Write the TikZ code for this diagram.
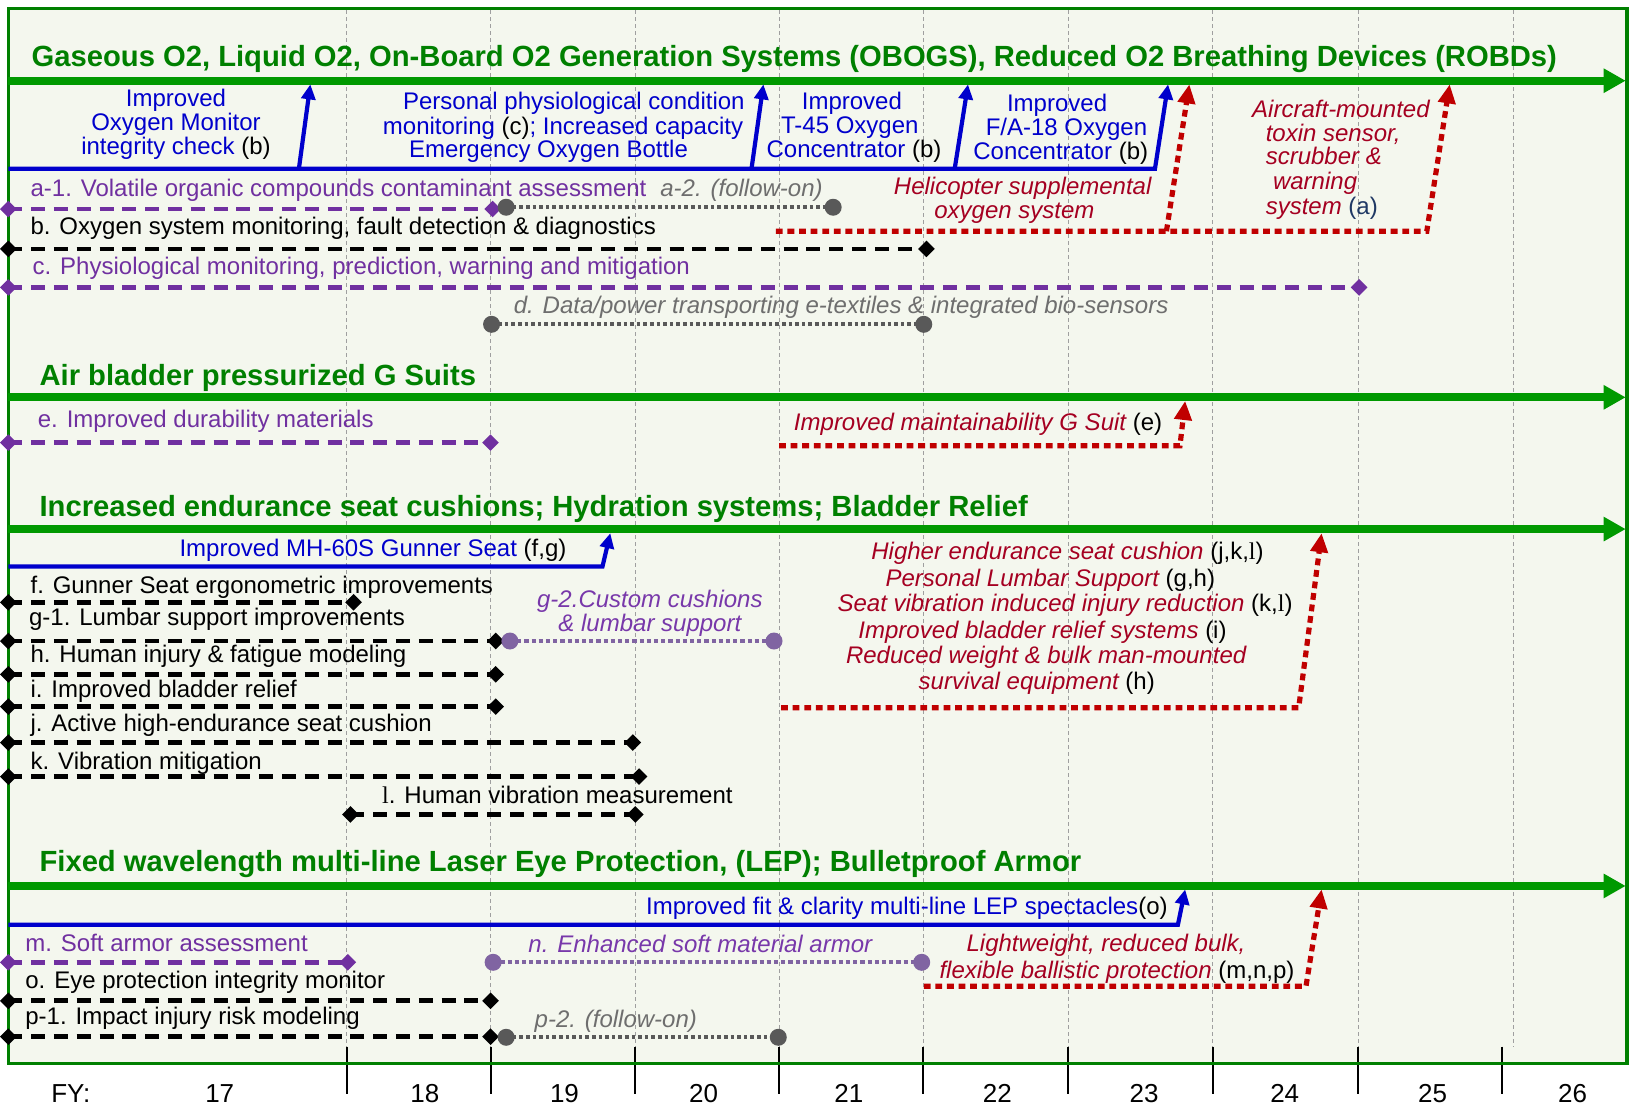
\documentclass[tikz,border=0pt]{standalone}
\usepackage{fontspec}
\setmainfont{Liberation Sans}
\newfontfamily\serifl{Liberation Serif}
\usetikzlibrary{arrows.meta,shapes.geometric}
\newcommand\Lser{{\serifl l}}
\definecolor{bgc}{RGB}{244,247,238}
\definecolor{frameg}{RGB}{0,128,0}
\definecolor{lineg}{RGB}{0,153,0}
\definecolor{titleg}{RGB}{0,128,0}
\definecolor{bl}{RGB}{0,0,204}
\definecolor{pur}{RGB}{112,48,160}
\definecolor{lpur}{RGB}{128,100,162}
\definecolor{ipur}{RGB}{120,56,170}
\definecolor{gry}{RGB}{89,89,89}
\definecolor{gtxt}{RGB}{110,110,110}
\definecolor{rd}{RGB}{192,0,0}
\definecolor{rtxt}{RGB}{165,0,33}
\definecolor{navy}{RGB}{31,56,100}
\tikzset{
  gridln/.style={gray!75, line width=0.5pt, dash pattern=on 2pt off 1.5pt},
  tickln/.style={black, line width=1pt},
  mainarrow/.style={lineg, line width=3.85pt, -{Triangle[length=11pt,width=11.5pt]}},
  bluepath/.style={bl, line width=2.1pt, line join=miter, -{Triangle[length=7.5pt,width=7pt]}},
  redpath/.style={rd, line width=2.6pt, dash pattern=on 3.4pt off 2.4pt, -{Triangle[length=9.5pt,width=8.5pt]}},
  pdash/.style={pur, line width=2.4pt, dash pattern=on 7pt off 4.4pt},
  kdash/.style={black, line width=2.4pt, dash pattern=on 7pt off 4.4pt},
  gdot/.style={gry, line width=2pt, dash pattern=on 1.8pt off 1.5pt},
  lpdot/.style={lpur, line width=2pt, dash pattern=on 2.1pt off 1.5pt},
  dmd/.style={diamond, aspect=1, fill, draw=none, inner sep=0pt, minimum size=8.5pt},
  circ/.style={circle, fill, draw=none, inner sep=0pt, minimum size=8.5pt},
  txt/.style={inner sep=0pt, font=\fontsize{12}{12}\selectfont},
  lt/.style={txt, anchor=base west},
  ct/.style={txt, anchor=base},
  rit/.style={text=rtxt, font=\fontsize{12}{12}\selectfont\itshape},
  ttl/.style={inner sep=0pt, anchor=base west, text=titleg, font=\fontsize{14.6}{15}\selectfont\bfseries},
  yr/.style={inner sep=0pt, anchor=base, font=\fontsize{13}{13}\selectfont},
}
\newcommand\tline[6]{% name, line style, marker style, x1, x2, y
  \coordinate (#1s) at (#4,#6); \coordinate (#1e) at (#5,#6);
  \draw[#2] (#1s) -- (#1e);
  \node[#3] (#1sm) at (#1s) {}; \node[#3] (#1em) at (#1e) {};}
\begin{document}
\begin{tikzpicture}[x=0.5207pt,y=-0.5207pt]
\useasboundingbox (0,0) rectangle (1568,1065);
\fill[white] (0,0) rectangle (1568,1065);
\fill[bgc] (8,8) rectangle (1562,1021);
% grid
\foreach \gx in {333,471,610,748,886.5,1025.5,1164.4,1304,1453}
  \draw[gridln] (\gx,10) -- (\gx,1005);
\foreach \gx in {333,471,610,748,886.5,1025.5,1164.4,1304,1442}
  \draw[tickln] (\gx,1005) -- (\gx,1050);
\draw[frameg, line width=1.8pt] (8,8) rectangle (1562,1021);
% years
\node[yr] (fy) at (68,1059) {FY:};
\node[yr] (y17) at (211,1059) {17};
\node[yr] (y18) at (408,1059) {18};
\node[yr] (y19) at (542,1059) {19};
\node[yr] (y20) at (675.5,1059) {20};
\node[yr] (y21) at (815,1059) {21};
\node[yr] (y22) at (957.7,1059) {22};
\node[yr] (y23) at (1098.5,1059) {23};
\node[yr] (y24) at (1233.6,1059) {24};
\node[yr] (y25) at (1375.6,1059) {25};
\node[yr] (y26) at (1510,1059) {26};
% green main arrows
\coordinate (g1s) at (8,77.5);  \coordinate (g1e) at (1561,77.5);
\coordinate (g2s) at (8,381.5); \coordinate (g2e) at (1561,381.5);
\coordinate (g3s) at (8,508);   \coordinate (g3e) at (1561,508);
\coordinate (g4s) at (8,850.7); \coordinate (g4e) at (1561,850.7);
\draw[mainarrow] (g1s) -- (g1e);
\draw[mainarrow] (g2s) -- (g2e);
\draw[mainarrow] (g3s) -- (g3e);
\draw[mainarrow] (g4s) -- (g4e);
% titles
\node[ttl] (t1) at (30,64) {Gaseous O2, Liquid O2, On-Board O2 Generation Systems (OBOGS), Reduced O2 Breathing Devices (ROBDs)};
\node[ttl] (t2) at (37.6,370.3) {Air bladder pressurized G Suits};
\node[ttl] (t3) at (37.6,496) {Increased endurance seat cushions; Hydration systems; Bladder Relief};
\node[ttl] (t4) at (37.6,837) {Fixed wavelength multi-line Laser Eye Protection, (LEP); Bulletproof Armor};
% ---------- section 1 blue
\coordinate (b1L) at (8,162);
\coordinate (b1c1) at (287,162);   \coordinate (b1t1) at (298,81);
\coordinate (b1c2) at (721.6,162); \coordinate (b1t2) at (733,81);
\coordinate (b1c3) at (916.7,162); \coordinate (b1t3) at (929.5,81);
\coordinate (b1R) at (1109,162);   \coordinate (b1t4) at (1121.6,81);
\draw[bluepath] (b1L) -- (b1R) -- (b1t4);
\draw[bluepath] (b1c1) -- (b1t1);
\draw[bluepath] (b1c2) -- (b1t2);
\draw[bluepath] (b1c3) -- (b1t3);
\node[ct,text=bl] (bt1a) at (169,102.4) {Improved};
\node[ct,text=bl] (bt1b) at (169,125.5) {Oxygen Monitor};
\node[ct,text=bl] (bt1c) at (169,148) {integrity check \textcolor{black}{(b)}};
\node[ct,text=bl] (bt2a) at (551,105.6) {Personal physiological condition};
\node[ct,text=bl] (bt2b) at (540.6,129) {monitoring \textcolor{black}{(c)}; Increased capacity};
\node[ct,text=bl] (bt2c) at (526.7,151) {Emergency Oxygen Bottle};
\node[ct,text=bl] (bt3a) at (818,105.6) {Improved};
\node[ct,text=bl] (bt3b) at (816,128) {T-45 Oxygen};
\node[ct,text=bl] (bt3c) at (820,151) {Concentrator \textcolor{black}{(b)}};
\node[ct,text=bl] (bt4a) at (1015,107) {Improved};
\node[ct,text=bl] (bt4b) at (1024,130) {F/A-18 Oxygen};
\node[ct,text=bl] (bt4c) at (1018.5,153) {Concentrator \textcolor{black}{(b)}};
% section 1 red
\coordinate (r1s) at (745,222);
\coordinate (r1c1) at (1120,222); \coordinate (r1t1) at (1142,81);
\coordinate (r1c2) at (1370,222); \coordinate (r1t2) at (1392,81);
\draw[redpath] (r1s) -- (r1c2) -- (r1t2);
\draw[redpath] (r1c1) -- (r1t1);
\node[ct,rit] (hel1) at (982,187) {Helicopter supplemental};
\node[ct,rit] (hel2) at (974,209.5) {oxygen system};
\node[lt,rit] (air1) at (1202,112.6) {Aircraft-mounted};
\node[lt,rit] (air2) at (1215,136) {toxin sensor,};
\node[lt,rit] (air3) at (1215,158.4) {scrubber \&};
\node[lt,rit] (air4) at (1222,181.5) {warning};
\node[lt,rit] (air5) at (1215,205.5) {system \textcolor{navy}{\upshape(a)}};
% section 1 items
\tline{la1}{pdash}{dmd,pur}{8}{473}{200.7}
\tline{la2}{gdot}{circ,gry}{486}{800}{199}
\tline{lb}{kdash}{dmd,black}{8}{889.6}{239}
\tline{lc}{pdash}{dmd,pur}{8}{1305}{276}
\tline{ld}{gdot}{circ,gry}{472}{887}{311.4}
\node[lt,text=pur] (ta1) at (29,188.8) {a-1. Volatile organic compounds contaminant assessment};
\node[lt,text=gtxt,font=\fontsize{12}{12}\selectfont\itshape] (ta2) at (633.7,188.8) {a-2. (follow-on)};
\node[lt] (tb) at (29,225) {b. Oxygen system monitoring, fault detection \& diagnostics};
\node[lt,text=pur] (tc) at (31,264) {c. Physiological monitoring, prediction, warning and mitigation};
\node[lt,text=gtxt,font=\fontsize{12}{12}\selectfont\itshape] (td) at (493,300.8) {d. Data/power transporting e-textiles \& integrated bio-sensors};
% ---------- section 2
\tline{le}{pdash}{dmd,pur}{8}{471}{425}
\node[lt,text=pur] (te) at (36,410) {e. Improved durability materials};
\coordinate (r2s) at (748,428); \coordinate (r2c) at (1133,428); \coordinate (r2t) at (1138,385);
\draw[redpath] (r2s) -- (r2c) -- (r2t);
\node[lt,rit] (tgs) at (762,413.5) {Improved maintainability G Suit \textcolor{black}{\upshape(e)}};
% ---------- section 3
\coordinate (b3s) at (8,544); \coordinate (b3c) at (578.5,544); \coordinate (b3t) at (586,512);
\draw[bluepath] (b3s) -- (b3c) -- (b3t);
\node[lt,text=bl] (tmh) at (172,534.5) {Improved MH-60S Gunner Seat \textcolor{black}{(f,g)}};
\tline{lf}{kdash}{dmd,black}{8}{339.5}{578.3}
\tline{lg}{kdash}{dmd,black}{8}{476}{615.5}
\tline{lgg}{lpdot}{circ,lpur}{489.6}{743.2}{615.5}
\tline{lh}{kdash}{dmd,black}{8}{476}{647.5}
\tline{li}{kdash}{dmd,black}{8}{476}{678.5}
\tline{lj}{kdash}{dmd,black}{8}{607.6}{713}
\tline{lk}{kdash}{dmd,black}{8}{613.6}{745.7}
\tline{ll}{kdash}{dmd,black}{336.5}{610}{782}
\node[lt] (tf) at (29,569.7) {f. Gunner Seat ergonometric improvements};
\node[lt] (tg) at (27.6,601) {g-1. Lumbar support improvements};
\node[inner sep=0pt, anchor=base, align=center, text=ipur, font=\fontsize{12}{10.2}\selectfont\itshape] (tgg) at (624,606.5) {g-2.Custom cushions\\\& lumbar support};
\node[lt] (th) at (29,636) {h. Human injury \& fatigue modeling};
\node[lt] (ti) at (29,669.5) {i. Improved bladder relief};
\node[lt] (tj) at (29,702.5) {j. Active high-endurance seat cushion};
\node[lt] (tk) at (29,739) {k. Vibration mitigation};
\node[lt] (tl) at (366.6,771.3) {\Lser. Human vibration measurement};
\coordinate (r3s) at (750,679.5); \coordinate (r3c) at (1247,679.5); \coordinate (r3t) at (1269,512);
\draw[redpath] (r3s) -- (r3c) -- (r3t);
\node[ct,rit] (rb1) at (1025,537.7) {Higher endurance seat cushion \textcolor{black}{\upshape(j,k,\Lser)}};
\node[ct,rit] (rb2) at (1008.5,563) {Personal Lumbar Support \textcolor{black}{\upshape(g,h)}};
\node[ct,rit] (rb3) at (1022.7,587.3) {Seat vibration induced injury reduction \textcolor{black}{\upshape(k,\Lser)}};
\node[ct,rit] (rb4) at (1001,613) {Improved bladder relief systems \textcolor{black}{\upshape(i)}};
\node[ct,rit] (rb5) at (1004.5,637) {Reduced weight \& bulk man-mounted};
\node[ct,rit] (rb6) at (995.5,662.5) {survival equipment \textcolor{black}{\upshape(h)}};
% ---------- section 4
\coordinate (b4s) at (8,888); \coordinate (b4c) at (1131,888); \coordinate (b4t) at (1138,854);
\draw[bluepath] (b4s) -- (b4c) -- (b4t);
\node[lt,text=bl] (tlep) at (620,878.5) {Improved fit \& clarity multi-line LEP spectacles\textcolor{black}{(o)}};
\tline{lm}{pdash}{dmd,pur}{8}{334}{924}
\tline{ln}{lpdot}{circ,lpur}{473.5}{885}{924}
\tline{lo}{kdash}{dmd,black}{8}{471}{961}
\tline{lp}{kdash}{dmd,black}{8}{471}{995.4}
\tline{lpp}{gdot}{circ,gry}{486}{747.3}{996}
\node[lt,text=pur] (tm) at (24,913.8) {m. Soft armor assessment};
\node[lt,text=ipur,font=\fontsize{12}{12}\selectfont\itshape] (tn) at (507,914.7) {n. Enhanced soft material armor};
\node[lt] (to) at (24,949) {o. Eye protection integrity monitor};
\node[lt] (tp) at (24,984) {p-1. Impact injury risk modeling};
\node[lt,text=gtxt,font=\fontsize{12}{12}\selectfont\itshape] (tpp) at (513,987) {p-2. (follow-on)};
\coordinate (r4s) at (887,947); \coordinate (r4c) at (1254,947); \coordinate (r4t) at (1269,854);
\draw[redpath] (r4s) -- (r4c) -- (r4t);
\node[ct,rit] (lw1) at (1062,913.7) {Lightweight, reduced bulk,};
\node[ct,rit] (lw2) at (1072.5,939.3) {flexible ballistic protection \textcolor{black}{\upshape(m,n,p)}};
\end{tikzpicture}
\end{document}
